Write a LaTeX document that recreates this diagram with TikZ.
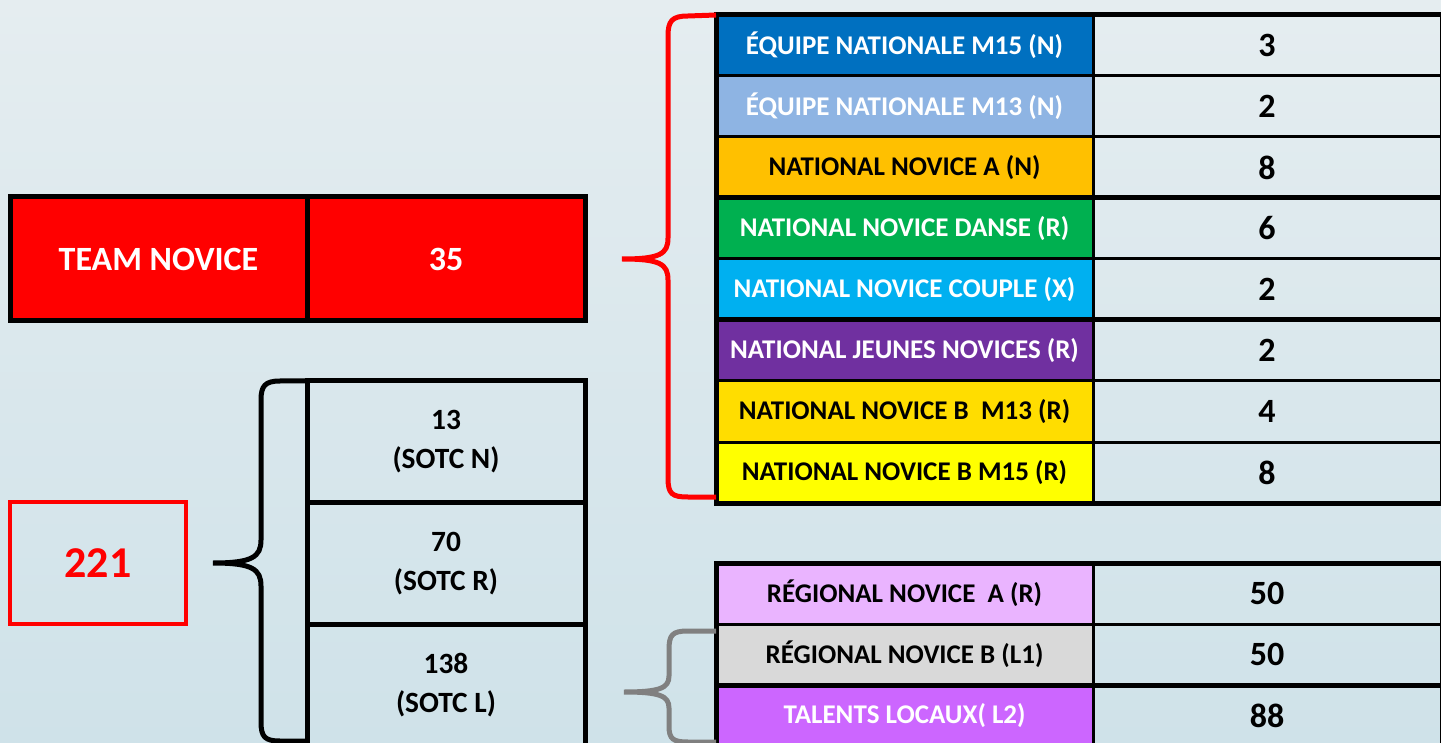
\documentclass[tikz,border=0pt]{standalone}
\usepackage{fontspec}
\setmainfont{Carlito}
\usetikzlibrary{positioning}

\definecolor{icetop}{RGB}{229,237,240}
\definecolor{icebottom}{RGB}{207,226,233}
\definecolor{eqblue}{RGB}{0,112,192}
\definecolor{eqlight}{RGB}{142,180,227}
\definecolor{nnaorange}{RGB}{255,192,0}
\definecolor{dansegreen}{RGB}{0,176,80}
\definecolor{couplecyan}{RGB}{0,176,240}
\definecolor{jeunespurple}{RGB}{112,48,160}
\definecolor{bgold}{RGB}{255,221,0}
\definecolor{byellow}{RGB}{255,255,0}
\definecolor{regmauve}{RGB}{234,180,255}
\definecolor{reggray}{RGB}{217,217,217}
\definecolor{localviolet}{RGB}{204,102,255}
\definecolor{bracegray}{RGB}{128,128,128}

\begin{document}
\begin{tikzpicture}[x=0.5pt,y=-0.5pt]
  \tikzset{
    cat/.style={
      rectangle,
      draw=black,
      line width=1.5pt,
      inner sep=0pt,
      outer sep=0pt,
      minimum width=188.5pt,
      minimum height=30.5pt,
      anchor=north west,
      font=\bfseries\fontsize{13.5}{13.5}\selectfont,
      text centered
    },
    val/.style={
      cat,
      minimum width=174pt,
      font=\bfseries\fontsize{17}{17}\selectfont
    },
    team/.style={
      rectangle,
      draw=black,
      fill=red,
      line width=2.5pt,
      outer sep=0pt,
      minimum height=62pt,
      anchor=north west,
      text=white,
      font=\bfseries\fontsize{17}{17}\selectfont
    },
    sotc/.style={
      rectangle,
      draw=black,
      line width=2.5pt,
      outer sep=0pt,
      minimum width=139pt,
      minimum height=60.75pt,
      anchor=north west,
      align=center,
      font=\bfseries\fontsize{14.7}{19.5}\selectfont
    },
    thickline/.style={line width=2.5pt, line cap=rect},
    bracket/.style={line width=2.5pt, line cap=butt}
  }

  \useasboundingbox (0,0) rectangle (1441,743);
  \clip (0,0) rectangle (1441,743);
  \shade[top color=icetop, bottom color=icebottom] (0,0) rectangle (1441,743);

  % national table
  \node[cat, fill=eqblue, text=white] (eq15) at (716,15) {ÉQUIPE NATIONALE M15 (N)};
  \node[cat, fill=eqlight, text=white, below=0pt of eq15] (eq13) {ÉQUIPE NATIONALE M13 (N)};
  \node[cat, fill=nnaorange, below=0pt of eq13] (nna) {NATIONAL NOVICE A (N)};
  \node[cat, fill=dansegreen, text=white, below=0pt of nna] (danse) {NATIONAL NOVICE DANSE (R)};
  \node[cat, fill=couplecyan, text=white, below=0pt of danse] (couple) {NATIONAL NOVICE COUPLE (X)};
  \node[cat, fill=jeunespurple, text=white, below=0pt of couple] (jeunes) {NATIONAL JEUNES NOVICES (R)};
  \node[cat, fill=bgold, below=0pt of jeunes] (b13) {NATIONAL NOVICE B\ \ M13 (R)};
  \node[cat, fill=byellow, below=0pt of b13] (b15) {NATIONAL NOVICE B M15 (R)};

  \node[val, right=0pt of eq15] (eq15v) {3};
  \node[val, right=0pt of eq13] (eq13v) {2};
  \node[val, right=0pt of nna] (nnav) {8};
  \node[val, right=0pt of danse] (dansev) {6};
  \node[val, right=0pt of couple] (couplev) {2};
  \node[val, right=0pt of jeunes] (jeunesv) {2};
  \node[val, right=0pt of b13] (b13v) {4};
  \node[val, right=0pt of b15] (b15v) {8};

  \draw[thickline] (eq15.north west) -- (eq15v.north east);
  \draw[thickline] (nna.south west) -- (nnav.south east);
  \draw[thickline] (couple.south west) -- (couplev.south east);
  \draw[thickline] (b15.south west) -- (b15v.south east);
  \draw[thickline] (eq15.north west) -- (b15.south west);

  % regional table
  \node[cat, fill=regmauve] (rega) at (716,563) {RÉGIONAL NOVICE\ \ A (R)};
  \node[cat, fill=reggray, below=0pt of rega] (regb) {RÉGIONAL NOVICE B (L1)};
  \node[cat, fill=localviolet, text=white, below=0pt of regb] (local) {TALENTS LOCAUX( L2)};

  \node[val, right=0pt of rega] (regav) {50};
  \node[val, right=0pt of regb] (regbv) {50};
  \node[val, right=0pt of local] (localv) {88};

  \draw[thickline] (rega.north west) -- (regav.north east);
  \draw[thickline] (regb.south west) -- (regbv.south east);
  \draw[thickline] (rega.north west) -- (local.south west);

  % team novice
  \node[team, minimum width=148.5pt] (team) at (10,197) {TEAM NOVICE};
  \node[team, minimum width=139pt, right=0pt of team] (teamv) {35};

  % sotc column
  \node[sotc] (sotcn) at (307,381) {13\\(SOTC N)};
  \node[sotc, below=0pt of sotcn] (sotcr) {70\\(SOTC R)};
  \node[sotc, below=0pt of sotcr] (sotcl) {138\\(SOTC L)};

  \node[draw=red, line width=2pt, outer sep=0pt, minimum width=88pt, minimum height=61pt,
    anchor=north west, text=red, font=\bfseries\fontsize{22}{22}\selectfont]
    (total) at (10,502) {221};

  % braces
  \draw[bracket, red] (eq15.north west) -- (688,16)
    .. controls (672,16) and (668,21) .. (668,36) -- (668,238)
    .. controls (668,254) and (660,259) .. (622,259)
    .. controls (660,259) and (668,264) .. (668,280) -- (668,478)
    .. controls (668,494) and (672,497) .. (688,497) -- (716,497);

  \draw[bracket, black] (sotcn.north west) -- (280,381)
    .. controls (265,381) and (261,386) .. (261,400) -- (261,540)
    .. controls (261,557) and (252,563) .. (213,563)
    .. controls (252,563) and (261,569) .. (261,586) -- (261,722)
    .. controls (261,737) and (265,741) .. (280,741) -- (307,741);

  \draw[bracket, bracegray] (716,631) -- (688,631)
    .. controls (672,631) and (669,635) .. (669,650) -- (669,676)
    .. controls (669,688) and (660,692) .. (624,692)
    .. controls (660,692) and (669,696) .. (669,708) -- (669,726)
    .. controls (669,739) and (673,742) .. (688,742) -- (716,742);
\end{tikzpicture}
\end{document}
